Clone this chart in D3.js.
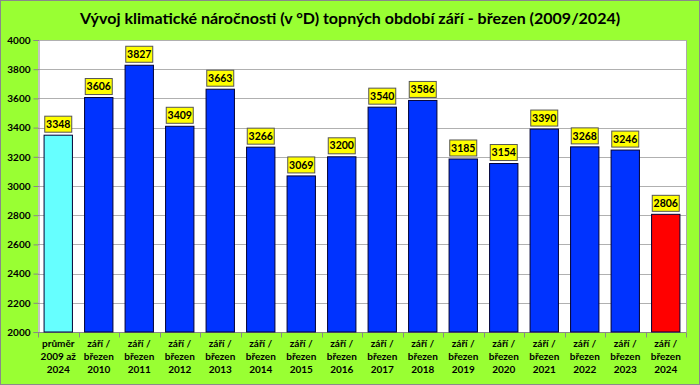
<!DOCTYPE html>
<html><head><meta charset="utf-8">
<script src="https://cdn.jsdelivr.net/npm/d3@7"></script>
<style>body{margin:0;background:#fff}svg{display:block}</style>
</head><body>
<svg id="c" width="700" height="385"></svg>
<script>
const categories = [
  ["průměr","2009 až","2024"],
  ["září /","březen","2010"],["září /","březen","2011"],["září /","březen","2012"],
  ["září /","březen","2013"],["září /","březen","2014"],["září /","březen","2015"],
  ["září /","březen","2016"],["září /","březen","2017"],["září /","březen","2018"],
  ["září /","březen","2019"],["září /","březen","2020"],["září /","březen","2021"],
  ["září /","březen","2022"],["září /","březen","2023"],["září /","březen","2024"]
];
const values = [3348,3606,3827,3409,3663,3266,3069,3200,3540,3586,3185,3154,3390,3268,3246,2806];
const barColors = ["#66FFFF","#0033FF","#0033FF","#0033FF","#0033FF","#0033FF","#0033FF","#0033FF","#0033FF","#0033FF","#0033FF","#0033FF","#0033FF","#0033FF","#0033FF","#FF0000"];
const yTicks = [2000,2200,2400,2600,2800,3000,3200,3400,3600,3800,4000];
const title = "Vývoj klimatické náročnosti (v °D) topných období září - březen (2009/2024)";

const svg = d3.select("#c");
const W=700,H=385;
const m={l:38,r:14,t:40,b:53};
const font="Lato, 'Open Sans', sans-serif";

svg.append("rect").attr("x",0.5).attr("y",0.5).attr("width",W-1).attr("height",H-1)
  .attr("fill","#99FF33").attr("stroke","#8a8a8a");

const x=d3.scaleBand().domain(d3.range(categories.length)).range([m.l,W-m.r]).paddingInner(0.3).paddingOuter(0.15);
const y=d3.scaleLinear().domain([2000,4000]).range([H-m.b,m.t]);

svg.append("rect").attr("x",m.l).attr("y",m.t).attr("width",W-m.r-m.l).attr("height",H-m.b-m.t)
  .attr("fill","#fff");
svg.append("line").attr("x1",W-m.r+0.5).attr("x2",W-m.r+0.5).attr("y1",m.t).attr("y2",H-m.b)
  .attr("stroke","#aaa").attr("stroke-width",1);

const g=svg.append("g");
g.selectAll(".grid").data(yTicks).join("line")
  .attr("x1",m.l).attr("x2",W-m.r).attr("y1",d=>Math.round(y(d))+0.5).attr("y2",d=>Math.round(y(d))+0.5)
  .attr("stroke","#b0b0b0").attr("stroke-width",1);

const yAxis=svg.append("g").attr("transform",`translate(${m.l+0.5},0)`)
  .call(d3.axisLeft(y).tickValues(yTicks).tickFormat(d3.format("d")).tickSize(5).tickPadding(3));
yAxis.select(".domain").attr("stroke","#888");
yAxis.selectAll(".tick line").attr("stroke","#888");
yAxis.selectAll("text").attr("font-family",font).attr("font-weight","bold").attr("font-size",10).attr("fill","#000");

const xa=svg.append("g").attr("transform",`translate(0,${H-m.b+0.5})`);
xa.append("line").attr("x1",m.l).attr("x2",W-m.r).attr("stroke","#888");
xa.selectAll(".xt").data(d3.range(categories.length+1)).join("line")
  .attr("x1",i=>Math.round(m.l+i*(W-m.r-m.l)/categories.length)+0.5)
  .attr("x2",i=>Math.round(m.l+i*(W-m.r-m.l)/categories.length)+0.5)
  .attr("y1",0).attr("y2",5).attr("stroke","#888");
const xl=xa.selectAll(".xl").data(categories).join("text")
  .attr("x",(d,i)=>x(i)+x.bandwidth()/2).attr("y",14)
  .attr("text-anchor","middle").attr("font-family",font).attr("font-weight","bold").attr("font-size",10);
xl.each(function(d){
  const t=d3.select(this);
  d.forEach((s,k)=>t.append("tspan").attr("x",t.attr("x")).attr("dy",k?13:0).text(s));
});

svg.selectAll(".bar").data(values).join("rect")
  .attr("x",(d,i)=>x(i)).attr("width",x.bandwidth())
  .attr("y",d=>y(d)).attr("height",d=>y(2000)-y(d))
  .attr("fill",(d,i)=>barColors[i]).attr("stroke","#000033").attr("stroke-width",1);

const lg=svg.selectAll(".lab").data(values).join("g")
  .attr("transform",(d,i)=>`translate(${x(i)+x.bandwidth()/2},${y(d)-11})`);
lg.append("rect").attr("x",-13.5).attr("y",-8).attr("width",27).attr("height",16)
  .attr("fill","#FFFF00").attr("stroke","#555").attr("stroke-width",1);
lg.append("text").attr("text-anchor","middle").attr("dy","0.35em")
  .attr("font-family",font).attr("font-weight","bold").attr("font-size",10.5).text(d=>d);

svg.append("text").attr("x",W/2).attr("y",24).attr("text-anchor","middle")
  .attr("font-family",font).attr("font-weight","bold").attr("font-size",16).text(title);
</script>
</body></html>
